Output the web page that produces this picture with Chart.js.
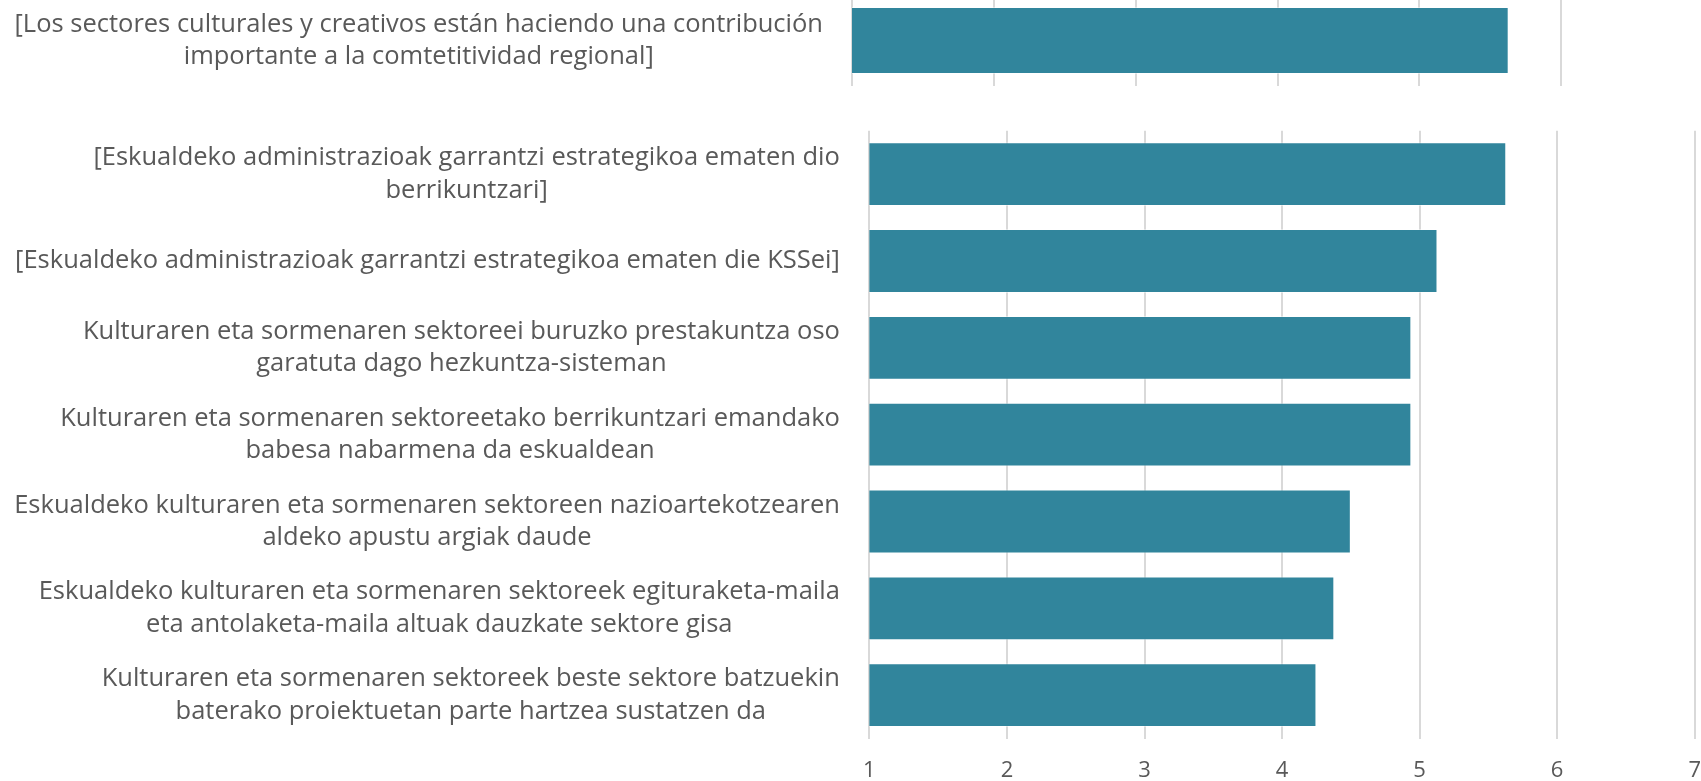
<!DOCTYPE html>
<html>
<head>
<meta charset="utf-8">
<script src="https://cdn.jsdelivr.net/npm/chart.js@4.4.1/dist/chart.umd.min.js"></script>
<style>
  html, body { margin: 0; padding: 0; background: #fff; overflow: hidden; }
  body { width: 1701px; height: 781px; position: relative; }
  canvas { position: absolute; left: 0; }
  #topChart { top: -5px; }
  #mainChart { top: 0; }
</style>
</head>
<body>
<canvas id="mainChart" width="1720" height="803" style="width:1720px;height:803px"></canvas>
<canvas id="topChart" width="1720" height="91" style="width:1720px;height:91px"></canvas>
<script>
// top (cut off) chart
var topCategories = [
    ['[Los sectores culturales y creativos están haciendo una contribución', 'importante a la comtetitividad regional]']
];
var topValues = [5.63];

// main chart
var categories = [
    ['[Eskualdeko administrazioak garrantzi estrategikoa ematen dio', 'berrikuntzari]'],
    ['[Eskualdeko administrazioak garrantzi estrategikoa ematen die KSSei]'],
    ['Kulturaren eta sormenaren sektoreei buruzko prestakuntza oso', 'garatuta dago hezkuntza-sisteman'],
    ['Kulturaren eta sormenaren sektoreetako berrikuntzari emandako', 'babesa nabarmena da eskualdean'],
    ['Eskualdeko kulturaren eta sormenaren sektoreen nazioartekotzearen', 'aldeko apustu argiak daude'],
    ['Eskualdeko kulturaren eta sormenaren sektoreek egituraketa-maila', 'eta antolaketa-maila altuak dauzkate sektore gisa'],
    ['Kulturaren eta sormenaren sektoreek beste sektore batzuekin', 'baterako proiektuetan parte hartzea sustatzen da']
];
var values = [5.63, 5.13, 4.94, 4.94, 4.50, 4.38, 4.25];

var xMin = 1;
var xMax = 7;

var barColor = '#31859C';
var gridColor = '#d9d9d9';
var textColor = '#595959';
var fontFamily = "'Open Sans', sans-serif";

// draws the wrapped category labels: block right-aligned, lines centred
var labelPlugin = {
    id: 'catLabels',
    afterDraw: function(chart, args, opts) {
        var ctx = chart.ctx;
        var yScale = chart.scales.y;
        var labels = chart.data.labels;
        ctx.save();
        ctx.font = opts.size + 'px ' + fontFamily;
        ctx.fillStyle = textColor;
        ctx.textAlign = 'center';
        ctx.textBaseline = 'middle';
        for (var i = 0; i < labels.length; i++) {
            var lines = labels[i];
            var w = 0;
            lines.forEach(function(l) { w = Math.max(w, ctx.measureText(l).width); });
            var cx = chart.chartArea.left - opts.gap - w / 2;
            var cy = yScale.getPixelForTick(i);
            var y0 = cy - (lines.length - 1) * opts.lineHeight / 2;
            lines.forEach(function(l, k) {
                ctx.fillText(l, cx, y0 + k * opts.lineHeight);
            });
        }
        ctx.restore();
    }
};

function makeOptions(pad, showTicks, gap) {
    return {
        indexAxis: 'y',
        responsive: false,
        animation: false,
        events: [],
        layout: { padding: pad },
        plugins: {
            legend: { display: false },
            tooltip: { enabled: false },
            catLabels: { size: 25.5, lineHeight: 32.5, gap: gap }
        },
        scales: {
            x: {
                min: xMin,
                max: xMax,
                border: { display: false },
                grid: { color: gridColor, lineWidth: 2, drawTicks: false },
                ticks: {
                    display: showTicks,
                    stepSize: 1,
                    padding: 19,
                    color: textColor,
                    font: { family: fontFamily, size: 22 }
                }
            },
            y: { display: false }
        }
    };
}

var topChart = new Chart(document.getElementById('topChart'), {
    type: 'bar',
    data: {
        labels: topCategories,
        datasets: [{
            data: topValues,
            backgroundColor: barColor,
            borderColor: 'rgba(255,255,255,0.45)',
            borderWidth: 1,
            categoryPercentage: 1,
            barPercentage: 0.735
        }]
    },
    options: makeOptions({ left: 852, right: 17, top: 0, bottom: 0 }, false, 29),
    plugins: [labelPlugin]
});

var mainChart = new Chart(document.getElementById('mainChart'), {
    type: 'bar',
    data: {
        labels: categories,
        datasets: [{
            data: values,
            backgroundColor: barColor,
            borderColor: 'rgba(255,255,255,0.45)',
            borderWidth: 1,
            categoryPercentage: 1,
            barPercentage: 0.735
        }]
    },
    options: makeOptions({ left: 869.4, right: 24.1, top: 130.7, bottom: 0 }, true, 29.5),
    plugins: [labelPlugin]
});
</script>
</body>
</html>
